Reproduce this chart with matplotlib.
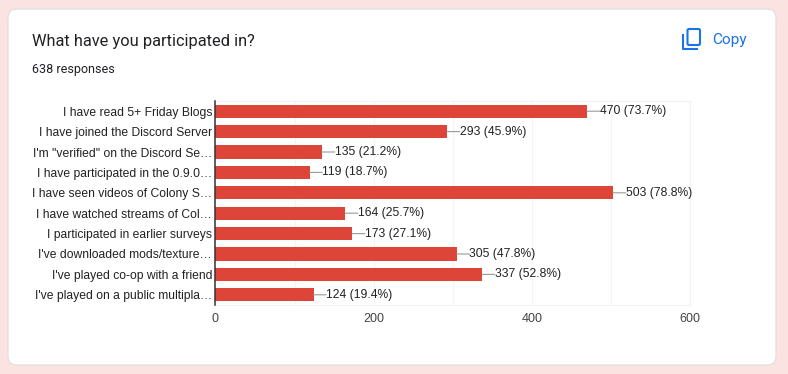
import matplotlib
matplotlib.use('Agg')
import matplotlib.pyplot as plt
from matplotlib.patches import FancyBboxPatch
from matplotlib.ticker import MultipleLocator

categories = ['I have read 5+ Friday Blogs', 'I have joined the Discord Server',
              'I\'m "verified" on the Discord Se…', 'I have participated in the 0.9.0…',
              'I have seen videos of Colony S…', 'I have watched streams of Col…',
              'I participated in earlier surveys', 'I\'ve downloaded mods/texture…',
              'I\'ve played co-op with a friend', 'I\'ve played on a public multipla…']
counts = [470, 293, 135, 119, 503, 164, 173, 305, 337, 124]
percents = [73.7, 45.9, 21.2, 18.7, 78.8, 25.7, 27.1, 47.8, 52.8, 19.4]
xticks = [0, 200, 400, 600]

W, H = 788, 374
bar_color = '#dc4538'
blue = '#1a73e8'

fig = plt.figure(figsize=(W / 100, H / 100), dpi=100, facecolor='#fae3e1')

# page layer in pixel coordinates, card and header
bg = fig.add_axes([0, 0, 1, 1])
bg.set_xlim(0, W)
bg.set_ylim(H, 0)
bg.axis('off')
bg.add_patch(FancyBboxPatch((8, 9), 768, 356, boxstyle='round,pad=0,rounding_size=9',
                            fc='white', ec='#e2e2e2', lw=1))
bg.text(32, 41, 'What have you participated in?', family='Roboto', fontsize=11.75,
        color='#202124', va='center', ha='left')
bg.text(32, 69, '638 responses', family='Roboto', fontsize=9,
        color='#202124', va='center', ha='left')
bg.text(712.5, 39.5, 'Copy', family='Roboto', fontsize=11.1, color=blue, va='center', ha='left')
# copy icon
bg.add_patch(FancyBboxPatch((687.5, 29), 12.5, 16, boxstyle='round,pad=0,rounding_size=1.5',
                            fc='none', ec=blue, lw=1.5))
bg.plot([683.5, 683.5, 698], [33.5, 48.5, 48.5], color=blue, lw=1.5,
        solid_capstyle='butt', solid_joinstyle='round')

ax = fig.add_axes([215.5 / W, 1 - 305 / H, (690 - 215.5) / W, (305 - 101) / H])
ax.set_facecolor('white')
ypos = list(range(len(categories)))
ax.barh(ypos, counts, height=0.64, color=bar_color, zorder=3)
ax.set_xlim(0, 600)
ax.set_ylim(len(categories) - 0.5, -0.5)
ax.set_yticks(ypos)
ax.set_yticklabels(categories, family='Liberation Sans', fontsize=8.75, color='#222222')
ax.set_xticks(xticks)
ax.set_xticklabels([str(v) for v in xticks], family='Liberation Sans', fontsize=9, color='#444444')
ax.xaxis.set_minor_locator(MultipleLocator(100))
ax.grid(True, axis='x', which='both', color='#f5f5f5', lw=1, zorder=0)
ax.tick_params(axis='both', which='both', length=0)
ax.tick_params(axis='y', pad=2.5)
ax.tick_params(axis='x', pad=5.5)
for side in ['top', 'right', 'bottom']:
    ax.spines[side].set_color('#f2f2f2')
ax.spines['left'].set_color('#333333')
ax.spines['left'].set_linewidth(1.1)
ax.spines['left'].set_zorder(5)

for y, c, p in zip(ypos, counts, percents):
    ax.annotate(f'{c} ({p}%)', xy=(c, y), xytext=(12.5, 0), textcoords='offset pixels',
                family='Liberation Sans', fontsize=8.75, color='#222222', va='center', ha='left',
                arrowprops=dict(arrowstyle='-', color='#999999', lw=0.8, shrinkA=0, shrinkB=0,
                                relpos=(0, 0.5), patchA=None),
                zorder=4)

fig.savefig('out.png', dpi=100, facecolor=fig.get_facecolor())
